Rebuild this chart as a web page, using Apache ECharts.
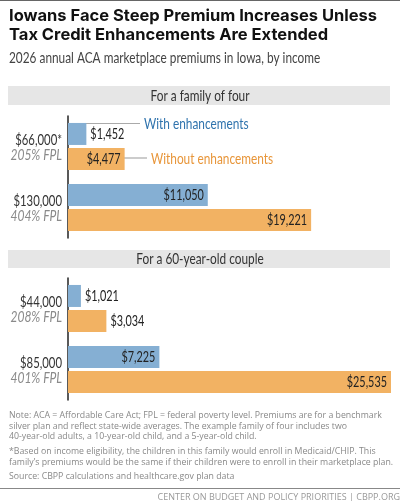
<!doctype html>
<html lang="en">
<head>
<meta charset="UTF-8">
<title>Iowa premiums</title>
<style>html,body{margin:0;padding:0;background:#fff}#chart{width:400px;height:501px}</style>
</head>
<body>
<div id="chart"></div>
<script src="https://cdn.jsdelivr.net/npm/echarts@6/dist/echarts.min.js"></script>
<script>
var family_income = ["$66,000*", "$130,000"];
var family_fpl = ["205% FPL", "404% FPL"];
var family_with = [1452, 11050];
var family_without = [4477, 19221];

var couple_income = ["$44,000", "$85,000"];
var couple_fpl = ["208% FPL", "401% FPL"];
var couple_with = [1021, 7225];
var couple_without = [3034, 25535];

var x_max = 25535;
var narrow = 'Lato, sans-serif';
var note_font = '"Open Sans", sans-serif';
var title_font = 'Inter, sans-serif';
var blue = "#85afd3", orange = "#f2b263";
var squeeze = 0.74;      // the original face is condensed

function money(v) {
    return "$" + String(v).replace(/\B(?=(\d{3})+$)/g, ",");
}

function bar_series(name, axis, data, color) {
    return {
        name: name, type: "bar", xAxisIndex: axis, yAxisIndex: axis,
        barWidth: 22, barGap: "14%",
        itemStyle: {color: color},
        data: data
    };
}

// value labels, drawn as custom text so they can be condensed
function label_series(axis, data, side, inside_from) {
    return {
        type: "custom", xAxisIndex: axis, yAxisIndex: axis, silent: true, z: 5,
        encode: {x: 0, y: 1},
        data: data.map(function (v, i) { return [v, i]; }),
        renderItem: function (params, api) {
            var v = api.value(0);
            var p = api.coord([v, api.value(1)]);
            var inside = v >= inside_from;
            return {
                type: "text",
                x: p[0] + (inside ? -4 : 4), y: p[1] + side * 12.5, scaleX: 0.7,
                style: {
                    text: money(v), align: inside ? "right" : "left", verticalAlign: "middle",
                    fontFamily: narrow, fontSize: 15.5, fill: "#222"
                }
            };
        }
    };
}

// income + FPL labels left of the axis
function income_series(axis, income, fpl) {
    return {
        type: "custom", xAxisIndex: axis, yAxisIndex: axis, silent: true,
        encode: {x: 0, y: 1},
        data: income.map(function (v, i) { return [0, i]; }),
        renderItem: function (params, api) {
            var i = api.value(1);
            var p = api.coord([0, i]);
            return {
                type: "group",
                children: [
                    {type: "text", x: p[0] - 6, y: p[1] - 7, scaleX: 0.73, style: {
                        text: income[i], align: "right", verticalAlign: "middle",
                        fontFamily: narrow, fontSize: 15.5, fill: "#333"}},
                    {type: "text", x: p[0] - 6, y: p[1] + 9, scaleX: 0.83, style: {
                        text: fpl[i], align: "right", verticalAlign: "middle",
                        fontFamily: narrow, fontSize: 14.5, fontStyle: "italic", fill: "#8a8a8a"}}
                ]
            };
        }
    };
}

function y_axis(index, cats) {
    return {
        type: "category", gridIndex: index, inverse: true, data: cats,
        axisTick: {show: false},
        axisLabel: {show: false},
        axisLine: {lineStyle: {color: "#222", width: 1.5}}
    };
}

function text(x, y, str, font, size, color, extra) {
    var s = {text: str, fontFamily: font, fontSize: size, fill: color, verticalAlign: "middle"};
    var scale = 1;
    for (var k in extra) {
        if (k == "scaleX") scale = extra[k]; else s[k] = extra[k];
    }
    return {type: "text", x: x, y: y, scaleX: scale, style: s};
}

function rect(x, y, w, h, color) {
    return {type: "rect", z: -1, shape: {x: x, y: y, width: w, height: h}, style: {fill: color}};
}

function line(x1, y1, x2, y2, color, w) {
    return {type: "line", shape: {x1: x1, y1: y1, x2: x2, y2: y2}, style: {stroke: color, lineWidth: w}};
}

var graphics = [
    rect(0, 0, 400, 1, "#666"),
    text(9, 16.5, "Iowans Face Steep Premium Increases Unless", title_font, 16.5, "#111", {fontWeight: "bold"}),
    text(9, 35, "Tax Credit Enhancements Are Extended", title_font, 16.5, "#111", {fontWeight: "bold"}),
    text(9, 57.5, "2026 annual ACA marketplace premiums in Iowa, by income", narrow, 16, "#444", {scaleX: squeeze}),
    rect(8, 86, 382, 19, "#e6e6e6"),
    text(200, 95.5, "For a family of four", narrow, 16, "#333", {align: "center", scaleX: squeeze}),
    rect(8, 250, 382, 18, "#e6e6e6"),
    text(200, 259, "For a 60-year-old couple", narrow, 16, "#333", {align: "center", scaleX: squeeze}),
    line(85, 123.5, 140, 123.5, "#aaa", 1),
    text(144, 124, "With enhancements", narrow, 16, "#2f73ad", {scaleX: squeeze}),
    line(124, 158, 147, 158, "#999", 1),
    text(151, 158.5, "Without enhancements", narrow, 16, "#e8963a", {scaleX: squeeze}),
    text(9, 415.7, "Note: ACA = Affordable Care Act; FPL = federal poverty level. Premiums are for a benchmark", note_font, 8.75, "#888"),
    text(9, 426, "silver plan and reflect state-wide averages. The example family of four includes two", note_font, 8.75, "#888"),
    text(9, 436.5, "40-year-old adults, a 10-year-old child, and a 5-year-old child.", note_font, 8.75, "#888"),
    text(9, 451.5, "*Based on income eligibility, the children in this family would enroll in Medicaid/CHIP. This", note_font, 8.75, "#888"),
    text(9, 462, "family\u2019s premiums would be the same if their children were to enroll in their marketplace plan.", note_font, 8.75, "#888"),
    text(9, 476, "Source: CBPP calculations and healthcare.gov plan data", note_font, 8.75, "#888"),
    rect(0, 488, 400, 1, "#888"),
    text(400, 497, "CENTER ON BUDGET AND POLICY PRIORITIES | CBPP.ORG", note_font, 9, "#999", {align: "right"})
];

var chart = echarts.init(document.getElementById("chart"), null, {renderer: "canvas"});
chart.setOption({
    animation: false,
    backgroundColor: "#fff",
    grid: [
        {left: 68, width: 323, top: 116, height: 122, outerBoundsMode: "none"},
        {left: 68, width: 323, top: 278, height: 122, outerBoundsMode: "none"}
    ],
    xAxis: [
        {type: "value", gridIndex: 0, min: 0, max: x_max, show: false},
        {type: "value", gridIndex: 1, min: 0, max: x_max, show: false}
    ],
    yAxis: [y_axis(0, family_income), y_axis(1, couple_income)],
    series: [
        bar_series("With enhancements", 0, family_with, blue),
        bar_series("Without enhancements", 0, family_without, orange),
        bar_series("With enhancements", 1, couple_with, blue),
        bar_series("Without enhancements", 1, couple_without, orange),
        label_series(0, family_with, -1, 5000),
        label_series(0, family_without, 1, 4000),
        label_series(1, couple_with, -1, 5000),
        label_series(1, couple_without, 1, 5000),
        income_series(0, family_income, family_fpl),
        income_series(1, couple_income, couple_fpl)
    ],
    graphic: {elements: graphics}
});
</script>
</body>
</html>
